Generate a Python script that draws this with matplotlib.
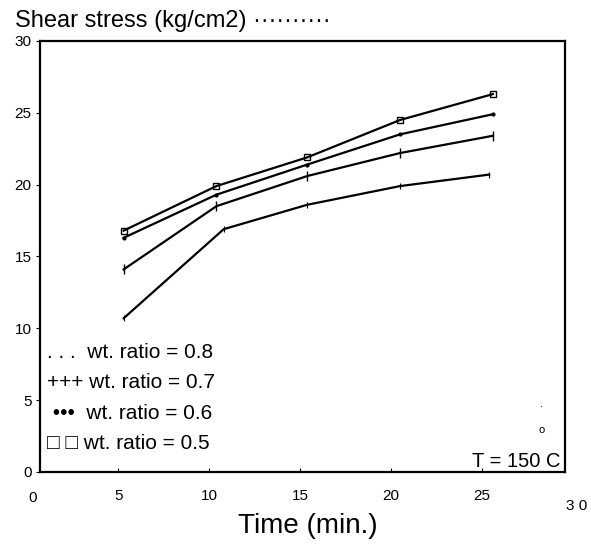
import matplotlib.pyplot as plt

plt.rcParams['font.family'] = ['Liberation Sans', 'DejaVu Sans']

# time points (min.) for each curve
time = [5.3, 10.4, 15.4, 20.5, 25.6]
time_08 = [5.3, 10.8, 15.4, 20.5, 25.4]

# shear stress (kg/cm2)
ratio_05 = [16.8, 19.9, 21.9, 24.5, 26.3]
ratio_06 = [16.3, 19.3, 21.4, 23.5, 24.9]
ratio_07 = [14.1, 18.5, 20.6, 22.2, 23.4]
ratio_08 = [10.7, 16.9, 18.6, 19.9, 20.7]

x_ticks = [5, 10, 15, 20, 25]
y_ticks = [0, 5, 10, 15, 20, 25, 30]

legend_lines = [". . .  wt. ratio = 0.8",
                "+++ wt. ratio = 0.7",
                " •••  wt. ratio = 0.6",
                "□ □ wt. ratio = 0.5"]

fig = plt.figure(figsize=(5.91, 5.53), dpi=100)
ax = fig.add_axes([0.0677, 0.1465, 0.888, 0.7794])

ax.plot(time, ratio_05, color='black', lw=1.6, marker='s', ms=5,
        mfc='none', mew=1.0)
ax.plot(time, ratio_06, color='black', lw=1.6, marker='.', ms=4)
ax.plot(time, ratio_07, color='black', lw=1.6, marker='|', ms=7, mew=1.0)
ax.plot(time_08, ratio_08, color='black', lw=1.6, marker='|', ms=5, mew=0.8)

ax.set_xlim(0.7, 29.56)
ax.set_ylim(0, 30)
ax.set_xticks(x_ticks)
ax.set_yticks(y_ticks)
ax.tick_params(axis='x', direction='in', length=3, labelsize=11, pad=12)
ax.tick_params(axis='y', direction='out', length=3, labelsize=11, pad=3)
for sp in ax.spines.values():
    sp.set_linewidth(1.6)

# end labels of the time axis fall just outside the frame
xt = ax.get_xaxis_transform()
ax.text(0.3, -0.06, "0", transform=xt, fontsize=11, ha='center', va='center')
ax.text(30.2, -0.08, "3 0", transform=xt, fontsize=11, ha='center', va='center')

for i, line in enumerate(legend_lines):
    ax.text(1.1, 8.3 - i * 2.1, line, fontsize=15, va='center', ha='left')

ax.text(29.3, 0.75, "T = 150 C", fontsize=14.5, ha='right', va='center')
ax.text(28.3, 2.9, "o", fontsize=8, ha='center', va='center')
ax.text(28.3, 4.7, ".", fontsize=8, ha='center', va='center')

fig.text(0.025, 0.962, "Shear stress (kg/cm2) ··········", fontsize=17,
         ha='left', va='center')
ax.set_xlabel("Time (min.)", fontsize=20)
ax.xaxis.set_label_coords(0.51, -0.095)

fig.savefig("out.png", dpi=100)
